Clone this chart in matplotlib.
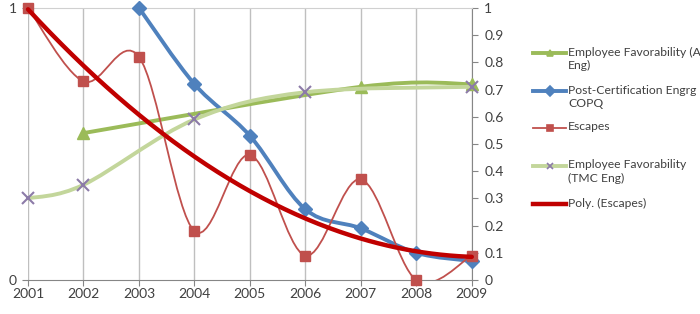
import numpy as np
import matplotlib.pyplot as plt
from matplotlib.path import Path
from matplotlib.patches import PathPatch, Rectangle
from matplotlib.lines import Line2D

plt.rcParams["font.family"] = ["Lato", "DejaVu Sans"]

years = [2001, 2002, 2003, 2004, 2005, 2006, 2007, 2008, 2009]

al_eng_years = [2002, 2007, 2009]
al_eng = [0.54, 0.71, 0.72]

copq_years = [2003, 2004, 2005, 2006, 2007, 2008, 2009]
copq = [1.0, 0.72, 0.53, 0.26, 0.19, 0.10, 0.07]

escapes = [1.0, 0.73, 0.82, 0.18, 0.46, 0.09, 0.37, 0.0, 0.09]

tmc_years = [2001, 2002, 2004, 2006, 2009]
tmc_eng = [0.30, 0.35, 0.59, 0.69, 0.71]

right_ticks = [0, 0.1, 0.2, 0.3, 0.4, 0.5, 0.6, 0.7, 0.8, 0.9, 1]


def smooth_path(xs, ys):
    # Excel-style smoothed line: Catmull-Rom converted to cubic Bezier
    pts = np.column_stack([xs, ys]).astype(float)
    n = len(pts)
    verts = [pts[0]]
    codes = [Path.MOVETO]
    for i in range(n - 1):
        p0 = pts[i - 1] if i > 0 else pts[i]
        p1 = pts[i]
        p2 = pts[i + 1]
        p3 = pts[i + 2] if i + 2 < n else pts[i + 1]
        c1 = p1 + (p2 - p0) / 6.0
        c2 = p2 - (p3 - p1) / 6.0
        verts += [c1, c2, p2]
        codes += [Path.CURVE4] * 3
    return Path(verts, codes)


def add_smooth(ax, xs, ys, color, lw, zorder):
    patch = PathPatch(smooth_path(xs, ys), facecolor="none", edgecolor=color,
                      lw=lw, zorder=zorder, capstyle="round")
    ax.add_patch(patch)
    # clip below the category axis only, like the original plot area
    clip = Rectangle((1990, 0), 40, 2, transform=ax.transData)
    patch.set_clip_path(clip)


fig = plt.figure(figsize=(7, 3.14), dpi=100)
ax = fig.add_axes([0.04, 0.108, 0.634, 0.867])

green = "#9BBB59"
blue = "#4F81BD"
red = "#C0504D"
lgreen = "#C3D69B"
xcol = "#8C7BA8"
trend = "#C00000"

for y in years:
    ax.axvline(y, color="#BFBFBF", lw=1, zorder=0)

# Employee Favorability (All Eng)
add_smooth(ax, al_eng_years, al_eng, green, 2.8, 3)
ax.plot(al_eng_years, al_eng, ls="none", marker="^", ms=9, color=green, zorder=3, clip_on=False)

# Post-Certification COPQ
add_smooth(ax, copq_years, copq, blue, 2.8, 4)
ax.plot(copq_years, copq, ls="none", marker="D", ms=7, color=blue, zorder=4, clip_on=False)

# Escapes
add_smooth(ax, years, escapes, red, 1.3, 5)
ax.plot(years, escapes, ls="none", marker="s", ms=7, color=red, zorder=5, clip_on=False)

# Employee Favorability (TMC Eng)
add_smooth(ax, tmc_years, tmc_eng, lgreen, 2.8, 6)
ax.plot(tmc_years, tmc_eng, ls="none", marker="x", ms=9, mew=1.5, color=xcol, zorder=6, clip_on=False)

# Poly. (Escapes)
xs = np.array(years, dtype=float) - years[0]
coef = np.polyfit(xs, escapes, 2)
xf = np.linspace(xs[0], xs[-1], 200)
ax.plot(xf + years[0], np.polyval(coef, xf), color=trend, lw=3.2, zorder=7,
        solid_capstyle="round", clip_on=False)

ax.set_xlim(years[0], years[-1])
ax.set_ylim(0, 1)
ax.set_xticks(years)
ax.set_xticklabels([str(y) for y in years], fontsize=10)
ax.set_yticks([0, 1])
ax.set_yticklabels(["0", "1"], fontsize=10)
for s in ["left", "right"]:
    ax.spines[s].set_visible(False)
ax.spines["top"].set_color("#D0D0D0")
ax.spines["bottom"].set_color("#868686")
ax.tick_params(axis="x", length=4, color="#868686", pad=2, labelcolor="#404040")
ax.tick_params(axis="y", length=4, color="#868686", pad=4, labelcolor="#404040")

ax2 = ax.twinx()
ax2.set_ylim(0, 1)
ax2.set_yticks(right_ticks)
ax2.set_yticklabels([f"{t:g}" for t in right_ticks], fontsize=10)
for s in ["top", "left", "bottom"]:
    ax2.spines[s].set_visible(False)
ax2.spines["right"].set_color("#868686")
ax2.tick_params(axis="y", length=4, color="#868686", pad=5, labelcolor="#404040")
ax2.set_zorder(ax.get_zorder() - 1)
ax.patch.set_visible(False)

# legend drawn by hand so the text runs off the right edge like the original
entries = [
    ("Employee Favorability (All\nEng)", green, "^", 2.8, green, 53),
    ("Post-Certification Engrg\nCOPQ", blue, "D", 2.8, blue, 91),
    ("Escapes", red, "s", 1.3, red, 128),
    ("Employee Favorability\n(TMC Eng)", lgreen, "x", 2.8, xcol, 166),
    ("Poly. (Escapes)", trend, None, 3.2, trend, 204),
]
W, H = 700, 314
for label, col, mk, lw, mcol, ypx in entries:
    yf = 1 - ypx / H
    fig.add_artist(Line2D([533 / W, 566 / W], [yf, yf], color=col, lw=lw,
                          transform=fig.transFigure))
    if mk:
        fig.add_artist(Line2D([549.5 / W], [yf], marker=mk, ms=5, color=mcol,
                              mew=1.2, transform=fig.transFigure))
    fig.text(568 / W, yf + 6.5 / H, label, fontsize=8.7, color="#404040",
             va="top", ha="left", linespacing=1.3)

fig.savefig("out.png", dpi=100)
